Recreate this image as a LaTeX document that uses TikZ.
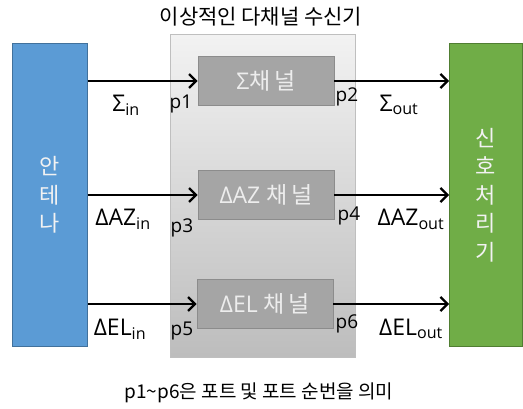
\documentclass[tikz,border=0pt]{standalone}
\usepackage{fontspec}
\setmainfont{Open Sans}
\newfontfamily\kr{Noto Sans CJK KR}
\usetikzlibrary{arrows.meta}
\definecolor{antblue}{HTML}{5B9BD5}
\definecolor{antblueline}{HTML}{41719C}
\definecolor{spgreen}{HTML}{70AD47}
\definecolor{spgreenline}{HTML}{507E32}
\definecolor{chfill}{HTML}{A5A5A5}
\definecolor{chline}{HTML}{8C8C8C}
\definecolor{rxline}{HTML}{BFBFBF}
\begin{document}
\begin{tikzpicture}[x=1pt,y=-1pt,
  blk/.style={draw, line width=0.8pt, inner sep=0pt},
  chbox/.style={blk, fill=chfill, draw=chline, minimum width=136pt, minimum height=49pt,
     text=white!93!black, font=\fontsize{23}{26}\selectfont},
  vtext/.style={text=white!95!black, align=center, font=\kr\fontsize{22}{28.5}\selectfont},
  sig/.style={line width=2.6pt, -{Straight Barb[length=7pt,width=14pt,line width=2.2pt]}},
  lbl/.style={inner sep=0pt, font=\fontsize{23}{25}\selectfont},
  port/.style={inner sep=0pt, font=\fontsize{19}{21}\selectfont},
  captxt/.style={inner sep=0pt, font=\kr\fontsize{19}{22}\selectfont}]
\useasboundingbox (0,0) rectangle (523,409);
% receiver container
\node[blk, draw=rxline, top color=white!95!black, bottom color=white!74!black,
  minimum width=185pt, minimum height=323pt, anchor=north west] (rx) at (170,34) {};
% antenna and signal processor
\node[blk, fill=antblue, draw=antblueline, minimum width=75pt, minimum height=303pt,
  anchor=north west] (ant) at (12,43) {};
\node[vtext] (anttxt) at (ant.center) {안\\테\\나};
\node[blk, fill=spgreen, draw=spgreenline, minimum width=73pt, minimum height=303pt,
  anchor=north west] (sp) at (449,43) {};
\node[vtext] (sptxt) at (sp.center) {신\\호\\처\\리\\기};
% channels
\node[chbox] (c1) at (266,81) {Σ{\kr 채\,널}};
\node[chbox] (c2) at (266,195) {ΔAZ {\kr 채\,널}};
\node[chbox] (c3) at (265,304) {ΔEL {\kr 채\,널}};
% arrows
\foreach \c in {c1,c2,c3}{
  \draw[sig] (\c.west -| ant.east) -- (\c.west);
  \draw[sig] (\c.east) -- (\c.east -| sp.west);
}
% labels
\node[lbl] (l1) at (126,105) {Σ\textsubscript{in}};
\node[lbl] (l2) at (123,219) {ΔAZ\textsubscript{in}};
\node[lbl] (l3) at (120,329) {ΔEL\textsubscript{in}};
\node[lbl] (o1) at (399,105) {Σ\textsubscript{out}};
\node[lbl] (o2) at (411,219) {ΔAZ\textsubscript{out}};
\node[lbl] (o3) at (411,329) {ΔEL\textsubscript{out}};
\node[port] (p1) at (181,104) {p1};
\node[port] (p2) at (347,97) {p2};
\node[port] (p3) at (182,228) {p3};
\node[port] (p4) at (349,216) {p4};
\node[port] (p5) at (182,331) {p5};
\node[port] (p6) at (347,324) {p6};
% title and caption
\node[captxt, font=\kr\fontsize{21}{24}\selectfont] (title) at (261,17) {이상적인 다채널 수신기};
\node[captxt] (note) at (259,393) {p1\textasciitilde p6은 포트 및 포트 순번을 의미};
\end{tikzpicture}
\end{document}
